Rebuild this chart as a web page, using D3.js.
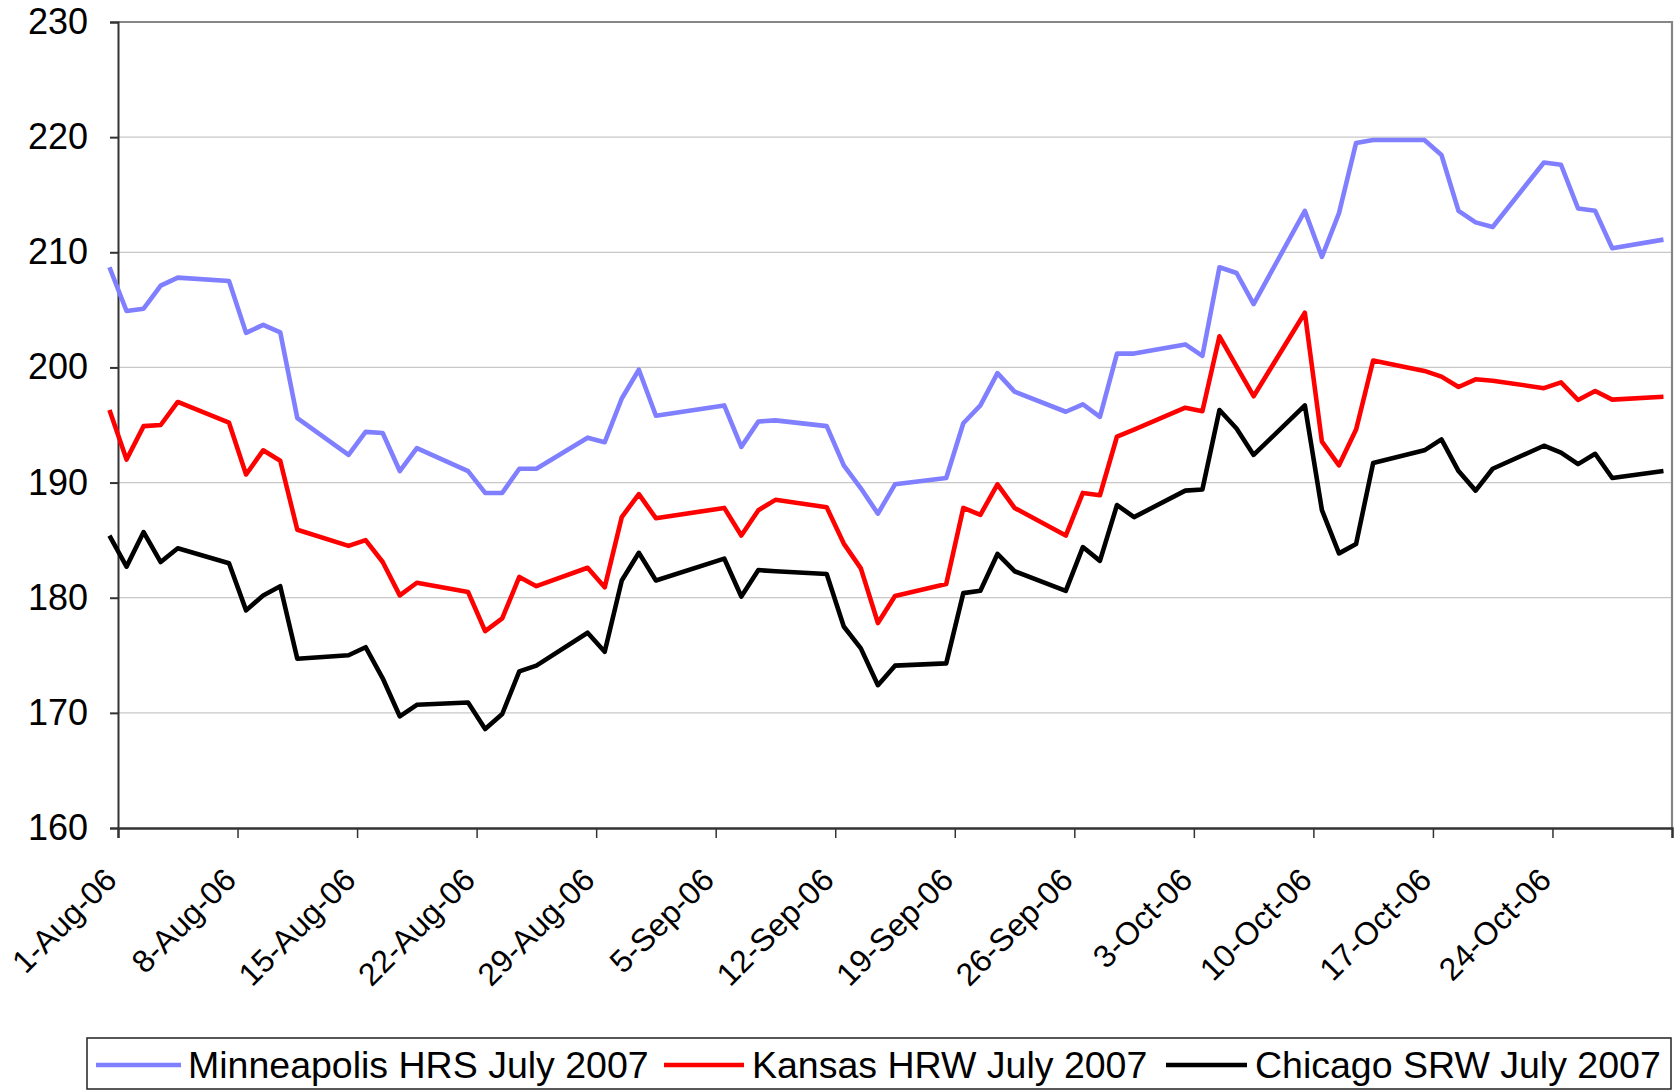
<!DOCTYPE html>
<html><head><meta charset="utf-8">
<script src="https://cdn.jsdelivr.net/npm/d3@7"></script>
<style>
body{margin:0;background:#fff;}
svg{display:block;}
text{font-family:Arial,"Liberation Sans",sans-serif;fill:#000;}
</style>
</head><body>
<svg id="c" width="1674" height="1091"></svg>
<script>
// ---- data ----
const dates = [
  "2006-07-31",
  "2006-08-01","2006-08-02","2006-08-03","2006-08-04",
  "2006-08-07","2006-08-08","2006-08-09","2006-08-10","2006-08-11",
  "2006-08-14","2006-08-15","2006-08-16","2006-08-17","2006-08-18",
  "2006-08-21","2006-08-22","2006-08-23","2006-08-24","2006-08-25",
  "2006-08-28","2006-08-29","2006-08-30","2006-08-31","2006-09-01",
  "2006-09-05","2006-09-06","2006-09-07","2006-09-08",
  "2006-09-11","2006-09-12","2006-09-13","2006-09-14","2006-09-15",
  "2006-09-18","2006-09-19","2006-09-20","2006-09-21","2006-09-22",
  "2006-09-25","2006-09-26","2006-09-27","2006-09-28","2006-09-29",
  "2006-10-02","2006-10-03","2006-10-04","2006-10-05","2006-10-06",
  "2006-10-09","2006-10-10","2006-10-11","2006-10-12","2006-10-13",
  "2006-10-16","2006-10-17","2006-10-18","2006-10-19","2006-10-20",
  "2006-10-23","2006-10-24","2006-10-25","2006-10-26","2006-10-27",
  "2006-10-30"
];
const minneapolis = [
  208.7,
  204.9,205.1,207.1,207.8,
  207.5,203.0,203.7,203.05,195.6,
  192.4,194.4,194.3,191.0,193.0,
  191.0,189.1,189.1,191.2,191.2,
  193.9,193.5,197.3,199.8,195.8,
  196.7,193.1,195.3,195.4,
  194.9,191.5,189.5,187.3,189.85,
  190.4,195.15,196.7,199.5,197.9,
  196.15,196.8,195.7,201.2,201.2,
  202.0,201.0,208.7,208.2,205.5,
  213.6,209.6,213.4,219.5,219.75,
  219.75,218.45,213.6,212.6,212.2,
  217.8,217.6,213.8,213.6,210.35,
  211.1
];
const kansas = [
  196.3,
  192.0,194.9,195.0,197.0,
  195.2,190.7,192.8,191.9,185.9,
  184.5,185.0,183.1,180.2,181.3,
  180.5,177.1,178.2,181.8,181.0,
  182.6,180.9,187.0,189.0,186.9,
  187.8,185.4,187.6,188.5,
  187.85,184.7,182.55,177.8,180.15,
  181.2,187.8,187.2,189.85,187.8,
  185.4,189.1,188.9,194.0,194.6,
  196.5,196.2,202.7,200.1,197.5,
  204.75,193.55,191.5,194.6,200.6,
  199.7,199.2,198.3,198.97,198.85,
  198.2,198.7,197.17,197.95,197.2,
  197.46
];
const chicago = [
  185.4,
  182.7,185.7,183.1,184.3,
  183.0,178.9,180.2,181.0,174.7,
  175.0,175.7,173.0,169.7,170.7,
  170.9,168.6,169.9,173.6,174.1,
  176.96,175.3,181.5,183.9,181.5,
  183.4,180.1,182.4,182.3,
  182.06,177.5,175.6,172.4,174.1,
  174.3,180.4,180.6,183.8,182.3,
  180.6,184.4,183.2,188.05,187.0,
  189.3,189.4,196.3,194.7,192.4,
  196.7,187.6,183.85,184.66,191.7,
  192.8,193.75,191.0,189.3,191.2,
  193.2,192.6,191.6,192.5,190.4,
  191.0
];
const seriesNames = ["Minneapolis HRS July 2007","Kansas HRW July 2007","Chicago SRW July 2007"];
const seriesColors = ["#7f7fff","#ff0000","#000000"];
const yTicks = [160,170,180,190,200,210,220,230];
const xTickDates = ["2006-08-01","2006-08-08","2006-08-15","2006-08-22","2006-08-29","2006-09-05",
  "2006-09-12","2006-09-19","2006-09-26","2006-10-03","2006-10-10","2006-10-17","2006-10-24","2006-10-31"];
const xTickLabels = ["1-Aug-06","8-Aug-06","15-Aug-06","22-Aug-06","29-Aug-06","5-Sep-06",
  "12-Sep-06","19-Sep-06","26-Sep-06","3-Oct-06","10-Oct-06","17-Oct-06","24-Oct-06",""];

// ---- layout ----
const L = 118, R = 1672, T = 22, B = 828;
const svg = d3.select("#c");
const parse = d3.utcParse("%Y-%m-%d");
const x = d3.scaleUtc().domain([parse("2006-08-01"), parse("2006-10-31")]).range([L, R]);
const y = d3.scaleLinear().domain([160, 230]).range([B, T]);
const xPt = s => x(d3.utcHour.offset(parse(s), 12));

// gridlines
svg.append("g").selectAll("line").data(yTicks.filter(v => v > 160 && v < 230)).join("line")
  .attr("x1", L).attr("x2", R).attr("y1", d => y(d)).attr("y2", d => y(d))
  .attr("stroke", "#c8c8c8").attr("stroke-width", 1.2);

// plot border (top/right)
svg.append("path").attr("d", `M${L},${T}H${R}V${B}`).attr("fill", "none")
  .attr("stroke", "#868686").attr("stroke-width", 2.2);

// y axis
const yAxis = svg.append("g").attr("transform", `translate(${L},0)`)
  .call(d3.axisLeft(y).tickValues(yTicks).tickSize(8).tickPadding(22).tickFormat(d3.format("d")));
yAxis.select(".domain").attr("stroke", "#333").attr("stroke-width", 2);
yAxis.selectAll(".tick line").attr("stroke", "#333").attr("stroke-width", 2);
yAxis.selectAll(".tick text").attr("font-size", 36).attr("font-family", "Arial, 'Liberation Sans', sans-serif").attr("fill", "#000");

// x axis
const xAxis = svg.append("g").attr("transform", `translate(0,${B})`)
  .call(d3.axisBottom(x).tickValues(xTickDates.map(parse)).tickSize(10).tickFormat((d, i) => xTickLabels[i]));
xAxis.select(".domain").attr("stroke", "#333").attr("stroke-width", 2.4);
xAxis.selectAll(".tick line").attr("stroke", "#333").attr("stroke-width", 1.5);
xAxis.selectAll(".tick text")
  .attr("font-size", 32).attr("font-family", "Arial, 'Liberation Sans', sans-serif").attr("fill", "#000")
  .attr("text-anchor", "end").attr("x", 0).attr("y", 0).attr("dy", 0)
  .attr("transform", "translate(0,54) rotate(-45)");

// lines
const line = d3.line().x((d, i) => xPt(dates[i])).y(d => y(d));
[minneapolis, kansas, chicago].forEach((vals, k) => {
  svg.append("path").datum(vals).attr("d", line).attr("fill", "none")
    .attr("stroke", seriesColors[k]).attr("stroke-width", 4.6)
    .attr("stroke-linejoin", "round");
});

// legend
const lg = svg.append("g");
lg.append("rect").attr("x", 87).attr("y", 1038).attr("width", 1584).attr("height", 51)
  .attr("fill", "#fff").attr("stroke", "#222").attr("stroke-width", 1.5);
const lgItems = [{x1: 96, x2: 181, tx: 188}, {x1: 664, x2: 744, tx: 752}, {x1: 1166, x2: 1247, tx: 1255}];
lgItems.forEach((it, k) => {
  lg.append("line").attr("x1", it.x1).attr("x2", it.x2).attr("y1", 1065).attr("y2", 1065)
    .attr("stroke", seriesColors[k]).attr("stroke-width", 4.6);
  lg.append("text").attr("x", it.tx).attr("y", 1078).attr("font-size", 37.5).text(seriesNames[k]);
});
</script>
</body></html>
